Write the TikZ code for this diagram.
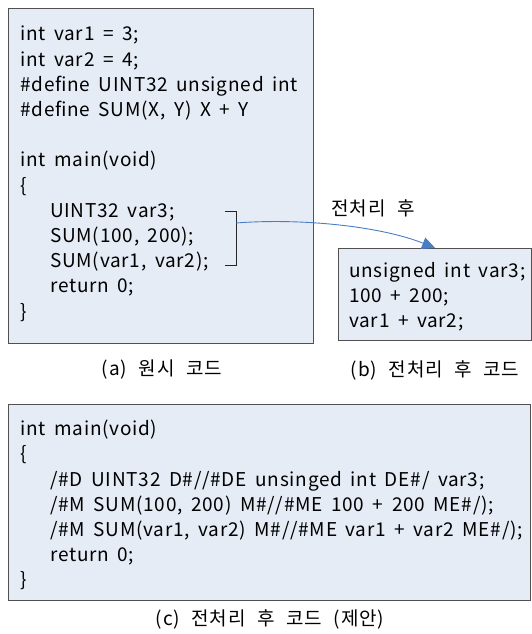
\documentclass[tikz,border=0pt]{standalone}
\usepackage{fontspec}
\setmainfont{Noto Sans CJK KR}
\newfontfamily\codefam{Noto Sans CJK KR}[LetterSpace=4,WordSpace=1.7]
\newfontfamily\capfam{Noto Sans CJK KR}[LetterSpace=5,WordSpace=2.2]
\usetikzlibrary{arrows.meta}
\definecolor{boxfill}{HTML}{E6ECF6}
\definecolor{boxline}{HTML}{505050}
\definecolor{arrowblue}{HTML}{4A7EC4}
\newcommand{\codefont}{\codefam\fontsize{19}{25.2}\selectfont}
\newcommand{\capfont}{\capfam\fontsize{19}{22}\selectfont}
\newcommand{\ind}{\hspace*{30pt}}
\begin{document}
\begin{tikzpicture}[x=1pt,y=-1pt,
  codebox/.style={draw=boxline, fill=boxfill, line width=1.2pt, inner sep=0pt, anchor=north west},
  code/.style={anchor=north west, inner sep=0pt, align=left, font=\codefont},
  caption/.style={font=\capfont, inner sep=0pt},
  bracketline/.style={draw=black!85, line width=0.9pt},
  conn/.style={draw=arrowblue, line width=0.9pt, -{Triangle[length=13pt,width=12pt]}}]
\useasboundingbox (0,0) rectangle (532,634);
\node[codebox, minimum width=305pt, minimum height=335pt] (a) at (8,8) {};
\node[codebox, minimum width=193pt, minimum height=92pt] (b) at (338,248) {};
\node[codebox, minimum width=522pt, minimum height=196pt] (c) at (8,404) {};
\node[code] (ta) at (20,26) {int var1 = 3;\\
int var2 = 4;\\
\#define UINT32 unsigned int\\
\#define SUM(X, Y) X + Y\\
\mbox{}\\
int main(void)\\
\{\\
\ind UINT32 var3;\\
\ind SUM(100, 200);\\
\ind SUM(var1, var2);\\
\ind return 0;\\
\}};
\node[code] (tb) at (349,262) {unsigned int var3;\\
100 + 200;\\
var1 + var2;};
\node[code] (tc) at (20,420) {int main(void)\\
\{\\
\ind /\#D UINT32 D\#//\#DE unsinged int DE\#/ var3;\\
\ind /\#M SUM(100, 200) M\#//\#ME 100 + 200 ME\#/);\\
\ind /\#M SUM(var1, var2) M\#//\#ME var1 + var2 ME\#/);\\
\ind return 0;\\
\}};
\draw[bracketline] (225,211) -- (236,211) -- (236,265) -- (225,265);
\coordinate (brk) at (236,223);
\draw[conn] (brk) .. controls (300,218) and (380,226) .. (b.north);
\node[caption] (lbl) at (373,208) {전처리 후};
\node[caption] (capa) at (162,370) {(a) 원시 코드};
\node[caption] (capb) at (435,370) {(b) 전처리 후 코드};
\node[caption] (capc) at (270,619) {(c) 전처리 후 코드 (제안)};
\end{tikzpicture}
\end{document}
